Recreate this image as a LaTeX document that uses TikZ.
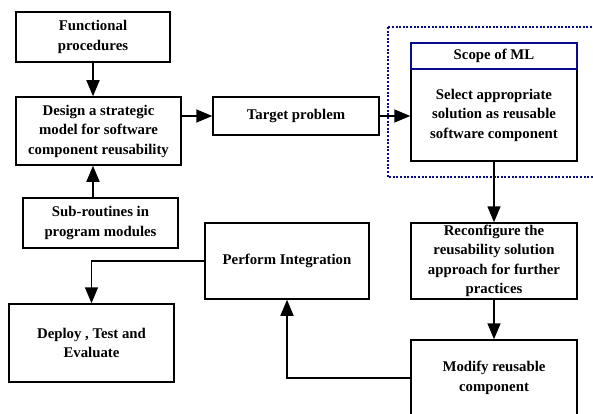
\documentclass[tikz,border=0pt]{standalone}
\usepackage{fontspec}
\setmainfont{Liberation Serif}
\usepackage{tikz}
\usetikzlibrary{arrows.meta}
\definecolor{mlblue}{RGB}{10,10,140}

\tikzset{
  stagebox/.style={draw=black, line width=1.5pt, fill=white, inner sep=0pt, align=center,
    font=\fontsize{14.8}{19.5}\selectfont\bfseries},
  flow/.style={line width=1.6pt, -{Triangle[length=16pt,width=13pt]}}
}

\begin{document}
\begin{tikzpicture}[x=1pt,y=-1pt]
\clip (0,0) rectangle (593,414);
% ML scope frame
\draw[mlblue, line width=1.5pt, dash pattern=on 2pt off 1.6pt] (388,27) rectangle (610,177);
% left column
\node[stagebox, minimum width=154pt, minimum height=50pt] (func) at (93,37) {Functional\\procedures};
\node[stagebox, minimum width=165pt, minimum height=68pt] (design) at (98.5,131) {Design a strategic\\model for software\\component reusability};
\node[stagebox, minimum width=155pt, minimum height=50pt] (subr) at (100.5,223) {Sub-routines in\\program modules};
\node[stagebox, minimum width=165pt, minimum height=78pt] (deploy) at (91.5,343) {Deploy , Test and\\Evaluate};
% middle
\node[stagebox, minimum width=166pt, minimum height=38pt] (target) at (296,116) {Target problem};
\node[stagebox, minimum width=164pt, minimum height=76pt] (perform) at (287,261) {Perform Integration};
% right column
\node[stagebox, minimum width=166pt, minimum height=92pt] (select) at (494,115) {Select appropriate\\solution as reusable\\software component};
\node[stagebox, draw=mlblue, minimum width=166pt, minimum height=26pt] (scope) at (494,56) {Scope of ML};
\node[stagebox, minimum width=166pt, minimum height=76pt] (reconf) at (494,261) {Reconfigure the\\reusability solution\\approach for further\\practices};
\node[stagebox, minimum width=166pt, minimum height=76pt] (modify) at (494,378) {Modify reusable\\component};
% connectors
\draw[flow] (func.south) -- (func.south |- design.north);
\draw[flow] (subr.north -| func.south) -- (design.south -| func.south);
\draw[flow] (target.west -| design.east) -- (target.west);
\draw[flow] (target.east) -- (target.east -| select.west);
\draw[flow] (select.south) -- (reconf.north);
\draw[flow] (reconf.south) -- (modify.north);
\draw[flow] (modify.west) -| (perform.south);
\draw[flow] (perform.west) -| (deploy.north);
\end{tikzpicture}
\end{document}
